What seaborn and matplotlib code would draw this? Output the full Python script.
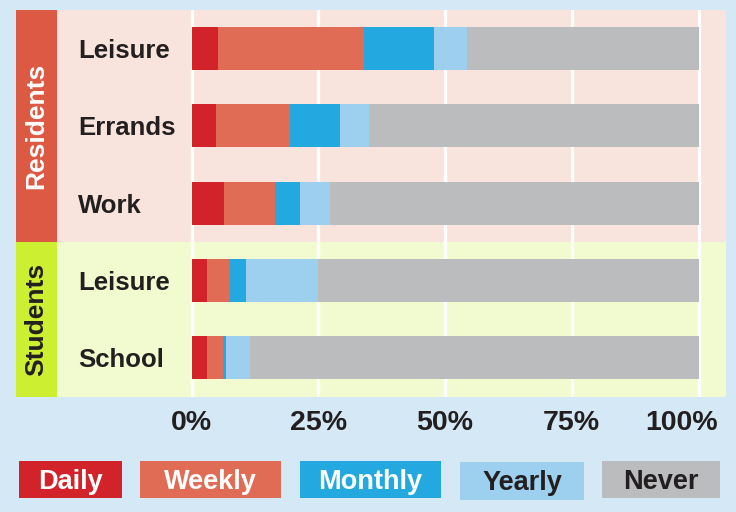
import matplotlib
matplotlib.use("Agg")
import matplotlib.pyplot as plt
import matplotlib.transforms as mtransforms
from matplotlib.patches import Rectangle
import numpy as np
import pandas as pd
import seaborn as sns

# data (percent of respondents)
groups = ["Residents", "Residents", "Residents", "Students", "Students"]
activities = ["Leisure", "Errands", "Work", "Leisure", "School"]
frequencies = ["Daily", "Weekly", "Monthly", "Yearly", "Never"]
daily = [5.3, 4.8, 6.5, 3.0, 3.0]
weekly = [28.7, 14.7, 9.9, 4.5, 3.2]
monthly = [13.8, 9.7, 5.0, 3.2, 0.7]
yearly = [6.6, 5.8, 6.0, 14.2, 4.7]
never = [45.6, 65.0, 72.6, 75.1, 88.4]
xticks = [0, 25, 50, 75, 100]

colors = {
    "Daily": "#d2232a",
    "Weekly": "#e06c55",
    "Monthly": "#23a9e0",
    "Yearly": "#9dcfee",
    "Never": "#bbbcbe",
}
BG = "#d5e8f6"
DARK = "#231f20"
FONT = ["Liberation Sans", "DejaVu Sans"]

plt.rcParams["font.family"] = FONT
plt.rcParams["font.weight"] = "bold"

rows = [f"{g}|{a}" for g, a in zip(groups, activities)]
df = pd.DataFrame({"row": rows, "Daily": daily, "Weekly": weekly,
                   "Monthly": monthly, "Yearly": yearly, "Never": never})
cum = df[frequencies].cumsum(axis=1)

fig = plt.figure(figsize=(7.36, 5.12), dpi=100, facecolor=BG)
ax = fig.add_axes([57 / 736, (512 - 396.5) / 512, 669 / 736, 386.5 / 512])
ax.set_facecolor("none")

# stacked bars: widest cumulative first, the rest on top
for freq in reversed(frequencies):
    sns.barplot(x=cum[freq], y=df["row"], order=rows, orient="h",
                color=colors[freq], saturation=1, width=0.555,
                linewidth=0, errorbar=None, ax=ax, zorder=2)

px_per_unit = (698.5 - 191.5) / 100
ax.set_xlim(-(191.5 - 57) / px_per_unit, (726 - 191.5) / px_per_unit)
ax.set_ylim(4.5, -0.5)

# group backgrounds
ax.axhspan(-0.5, 2.5, color="#f8e4dc", zorder=0, lw=0)
ax.axhspan(2.5, 4.5, color="#f2fbd0", zorder=0, lw=0)

ax.set_xticks(xticks)
ax.set_xticklabels([f"{t}%" for t in xticks])
ax.grid(axis="x", color="white", lw=2.4, zorder=0.5)
ax.grid(axis="y", visible=False)
ax.set_axisbelow(True)
for s in ax.spines.values():
    s.set_visible(False)
ax.set_xlabel("")
ax.set_ylabel("")

ax.tick_params(axis="x", length=0, pad=10, labelsize=20.5, labelcolor=DARK)
ax.tick_params(axis="y", length=0, pad=-(78 - 57) * 0.72, labelsize=18.5,
               labelcolor=DARK)
ax.set_yticks(range(len(rows)))
ax.set_yticklabels(activities)
for lab in ax.get_yticklabels():
    lab.set_horizontalalignment("left")
    lab.set_fontweight("bold")
for lab in ax.get_xticklabels():
    lab.set_fontweight("bold")
last = ax.get_xticklabels()[-1]
last.set_transform(last.get_transform()
                   + mtransforms.ScaledTranslation(-17 / 100, 0, fig.dpi_scale_trans))

# group strips on the left
blend = mtransforms.blended_transform_factory(ax.transAxes, ax.transData)
strip_w = 41 / 669
strips = [("Residents", -0.5, 2.5, "#dc5943", "white"),
          ("Students", 2.5, 4.5, "#cdef32", DARK)]
for name, y0, y1, fc, tc in strips:
    ax.add_patch(Rectangle((-strip_w, y0), strip_w, y1 - y0, transform=blend,
                           facecolor=fc, lw=0, clip_on=False))
    ax.text(-strip_w / 2, (y0 + y1) / 2, name, transform=blend, rotation=90,
            ha="center", va="center", color=tc, fontsize=19, fontweight="bold")

# legend boxes along the bottom
legend_boxes = [(19, 122, 461, 498, "white"), (140, 281, 461, 498, "white"),
                (300, 441, 461, 498, "white"), (460, 584, 462, 500, DARK),
                (602, 720, 461, 498, DARK)]
for freq, (x0, x1, yt, yb, tc) in zip(frequencies, legend_boxes):
    fig.add_artist(Rectangle((x0 / 736, (512 - yb) / 512), (x1 - x0) / 736,
                             (yb - yt) / 512, transform=fig.transFigure,
                             facecolor=colors[freq], lw=0))
    fig.text((x0 + x1) / 2 / 736, (512 - ((yt + yb) / 2 + 9.5)) / 512, freq,
             ha="center", va="baseline", color=tc, fontsize=19.5,
             fontweight="bold")

fig.savefig("out.png", dpi=100, facecolor=BG)
